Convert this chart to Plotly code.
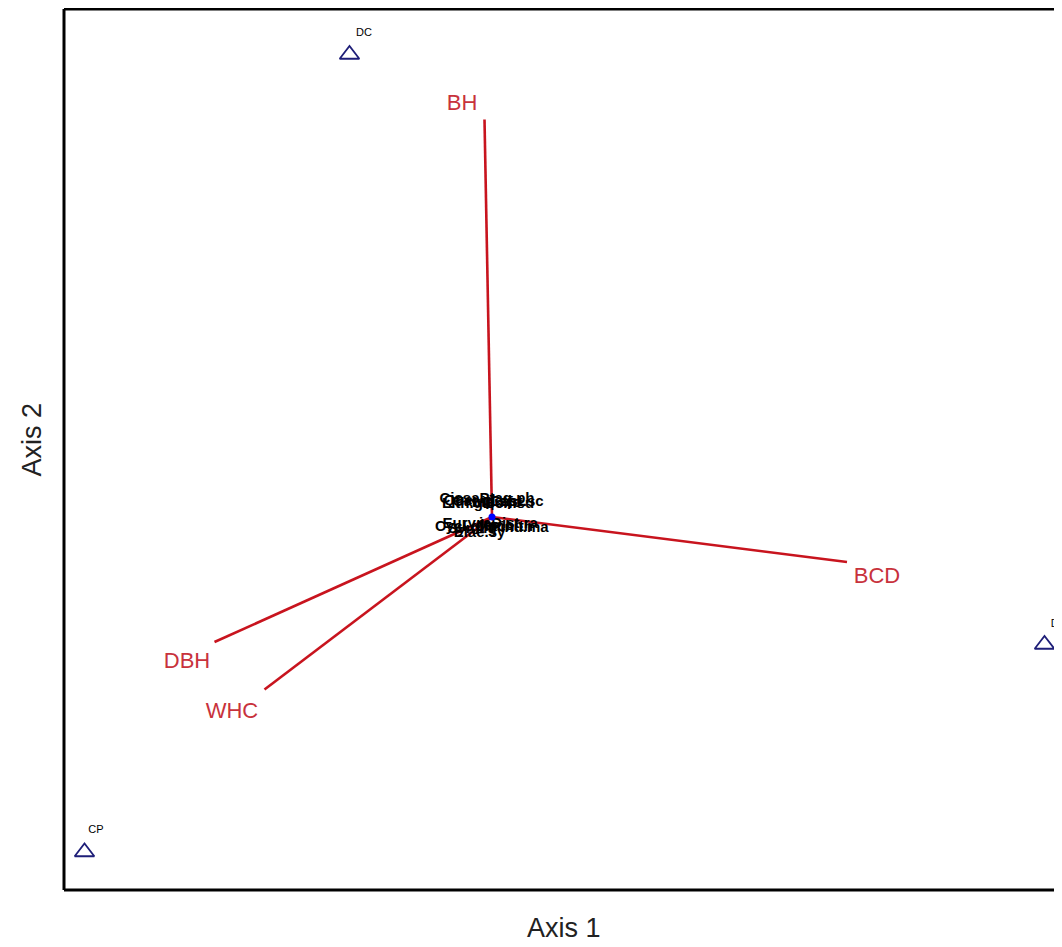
import plotly.graph_objects as go

# Site scores (triangles) and their label positions
site_names = ["DC", "CP", "DJ"]
site_x = [-0.57, -1.63, 2.21]
site_y = [1.85, -1.34, -0.51]
site_lab_x = [-0.512, -1.584, 2.262]
site_lab_y = [1.936, -1.252, -0.428]

# Environmental vectors (arrow ends) and label positions
env_names = ["BH", "BCD", "DBH", "WHC"]
env_x = [-0.03, 1.42, -1.11, -0.91]
env_y = [1.59, -0.18, -0.50, -0.69]
env_lab_x = [-0.12, 1.54, -1.22, -1.04]
env_lab_y = [1.65, -0.24, -0.58, -0.78]

# Species scores (clustered near origin)
sp_names = ["Cissa", "Quer.gl", "Ptag.ph", "Cast.sc", "Lith.gl", "Sch.su",
            "Cycl.gl", "Elae.sy", "Mach.th", "Pinu.ma", "Ilex.ch", "Sym.lg",
            "Camp.sp", "Liqu.fo", "Dist.ra", "Eury.ja"]
sp_x = [-0.13, -0.09, 0.06, 0.10, -0.11, 0.07,
        -0.13, -0.05, 0.05, 0.11, 0.03, -0.08,
        -0.03, 0.02, 0.09, -0.10]
sp_y = [0.07, 0.065, 0.07, 0.06, 0.05, 0.05,
        -0.04, -0.065, -0.04, -0.045, -0.035, -0.05,
        0.06, 0.055, -0.03, -0.03]

red_line = "rgb(200,20,30)"
red_text = "rgb(200,50,60)"

fig = go.Figure()

# vectors
for i, n in enumerate(env_names):
    fig.add_trace(go.Scatter(x=[0, env_x[i]], y=[0, env_y[i]], mode="lines",
                             line=dict(color=red_line, width=2.6),
                             hoverinfo="skip", showlegend=False))

fig.add_trace(go.Scatter(x=env_lab_x, y=env_lab_y, mode="text", text=env_names,
                         textfont=dict(family="Liberation Sans, Arial", size=22, color=red_text),
                         showlegend=False))

# species labels
fig.add_trace(go.Scatter(x=sp_x, y=sp_y, mode="text", text=sp_names,
                         textfont=dict(family="Liberation Sans, Arial", size=15, color="black",
                                       weight="bold"),
                         showlegend=False))
fig.add_trace(go.Scatter(x=[0], y=[0], mode="markers",
                         marker=dict(symbol="circle", size=7, color="blue"),
                         showlegend=False))

# sites
fig.add_trace(go.Scatter(x=site_x, y=site_y, mode="markers",
                         marker=dict(symbol="triangle-up-open", size=17, color="rgb(30,30,120)",
                                     line=dict(width=1.8)),
                         cliponaxis=False, showlegend=False))
fig.add_trace(go.Scatter(x=site_lab_x, y=site_lab_y, mode="text", text=site_names,
                         textposition="middle center",
                         textfont=dict(family="Liberation Sans, Arial", size=11, color="black"),
                         cliponaxis=False, showlegend=False))

fig.update_layout(
    width=1062, height=939,
    margin=dict(l=56, r=0, t=1, b=57),
    paper_bgcolor="white", plot_bgcolor="white",
    xaxis=dict(range=[-1.712, 2.312], visible=False, showgrid=False, zeroline=False),
    yaxis=dict(range=[-1.492, 2.032], visible=False, showgrid=False, zeroline=False),
    shapes=[
        dict(type="line", xref="paper", yref="paper", x0=0, x1=0, y0=0, y1=1,
             line=dict(color="black", width=3)),
        dict(type="line", xref="paper", yref="paper", x0=0, x1=1, y0=1, y1=1,
             line=dict(color="black", width=3)),
        dict(type="line", xref="paper", yref="paper", x0=0, x1=1, y0=0, y1=0,
             line=dict(color="black", width=3)),
    ],
    annotations=[
        dict(text="Axis 1", xref="paper", yref="paper", x=(564 - 64) / 1006, y=-0.043,
             showarrow=False, xanchor="center", yanchor="middle",
             font=dict(family="Liberation Sans, Arial", size=27, color="#222")),
        dict(text="Axis 2", xref="paper", yref="paper", x=-0.0323, y=(890 - 440) / 881,
             showarrow=False, xanchor="center", yanchor="middle", textangle=-90,
             font=dict(family="Liberation Sans, Arial", size=27, color="#222")),
    ],
)

fig.write_html("out.html")
